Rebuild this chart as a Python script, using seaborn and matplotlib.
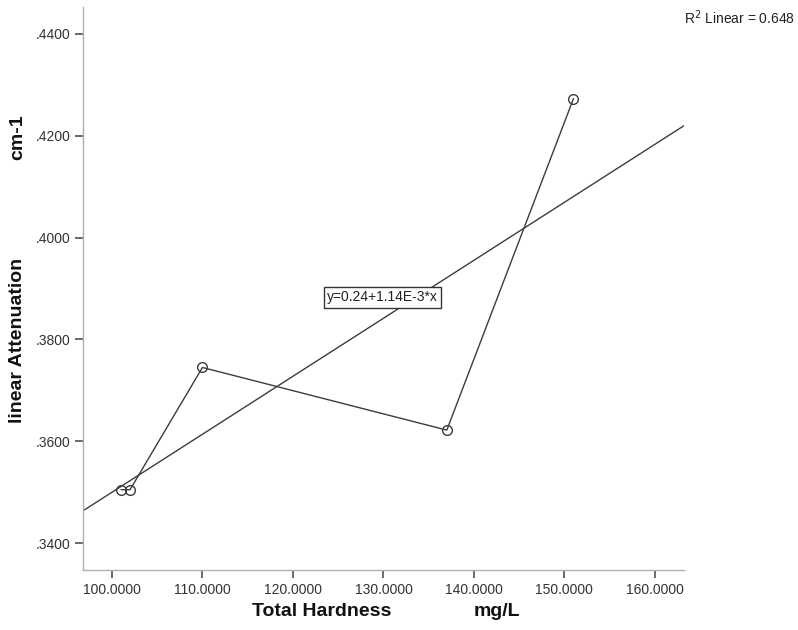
import numpy as np
import pandas as pd
import seaborn as sns
import matplotlib.pyplot as plt
from matplotlib.ticker import FuncFormatter, FixedLocator

sns.set_style("white")
plt.rcParams['font.family'] = ['Liberation Sans', 'DejaVu Sans']

hardness = [101, 102, 110, 137, 151]
attenuation = [0.3505, 0.3505, 0.3745, 0.3622, 0.4273]
x_ticks = [100, 110, 120, 130, 140, 150, 160]
y_ticks = [0.34, 0.36, 0.38, 0.40, 0.42, 0.44]

df = pd.DataFrame({"hardness": hardness, "attenuation": attenuation})

fig = plt.figure(figsize=(7.98, 6.3), dpi=100)
ax = fig.add_axes([0.104, 0.095, 0.753, 0.894])
ax.set_xlim(96.8, 163.2)
ax.set_ylim(0.3347, 0.4453)

line_col = "#3c3c3c"
# fit line across full axis
sns.regplot(data=df, x="hardness", y="attenuation", scatter=False, ci=None,
            truncate=False, color=line_col, line_kws={"lw": 1.0}, ax=ax)
sns.lineplot(data=df, x="hardness", y="attenuation", sort=False, color=line_col,
             lw=1.0, marker="o", markersize=7, markerfacecolor="none",
             markeredgecolor=line_col, markeredgewidth=1.0, ax=ax)

ax.set_xlim(96.8, 163.2)
ax.set_ylim(0.3347, 0.4453)

ax.xaxis.set_major_locator(FixedLocator(x_ticks))
ax.yaxis.set_major_locator(FixedLocator(y_ticks))
ax.xaxis.set_major_formatter(FuncFormatter(lambda v, p: f"{v:.4f}"))
ax.yaxis.set_major_formatter(FuncFormatter(lambda v, p: f"{v:.4f}".lstrip("0")))

for s in ["top", "right"]:
    ax.spines[s].set_visible(False)
for s in ["left", "bottom"]:
    ax.spines[s].set_color("#b0b0b0")
    ax.spines[s].set_linewidth(1.0)
ax.tick_params(axis="both", direction="out", length=6, width=1.2, color="#505050",
               labelsize=10, labelcolor="#333333", pad=3, bottom=True, left=True)

ax.set_xlabel("")
ax.set_ylabel("")
lab = dict(fontsize=14, fontweight="bold", color="#111111", va="center", ha="center")
fig.text(322 / 798, 1 - 612 / 630, "Total Hardness", **lab)
fig.text(497 / 798, 1 - 612 / 630, "mg/L", **lab)
fig.text(18 / 798, 1 - 340 / 630, "linear Attenuation", rotation=90, **lab)
fig.text(18 / 798, 1 - 137 / 630, "cm-1", rotation=90, **lab)

ax.text(129.9, 0.3883, "y=0.24+1.14E-3*x", fontsize=10, color="#222222",
        ha="center", va="center",
        bbox=dict(boxstyle="square,pad=0.25", fc="white", ec="#333333", lw=1.0))

fig.text(0.997, 0.972, "R$^2$ Linear = 0.648", fontsize=10, color="#222222",
         ha="right", va="center")

fig.savefig("out.png", dpi=100)
